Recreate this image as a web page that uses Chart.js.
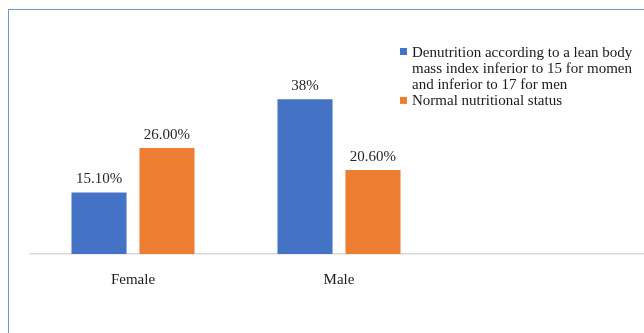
<!DOCTYPE html>
<html>
<head>
<meta charset="utf-8">
<script src="https://cdn.jsdelivr.net/npm/chart.js@4.4.1/dist/chart.umd.min.js"></script>
<style>
  html, body { margin: 0; padding: 0; background: #fff; overflow: hidden; width: 644px; height: 333px; }
  #frame { position: absolute; left: 8px; top: 9px; width: 700px; height: 400px;
           border-left: 1px solid #6f95d6; border-top: 1px solid #6f95d6; }
  #c { position: absolute; left: 0; top: 0; }
</style>
</head>
<body>
<div id="frame"></div>
<canvas id="c" width="648" height="333"></canvas>
<script>
// Categories (third slot left empty, as in the original layout)
const categories = ['Female', 'Male', ''];
const denutrition = [15.1, 38, null];
const normalStatus = [26.0, 20.6, null];
const denutritionLabels = ['15.10%', '38%', ''];
const normalLabels = ['26.00%', '20.60%', ''];
const seriesNames = [
  'Denutrition according to a lean body mass index inferior to 15 for momen and inferior to 17 for men',
  'Normal nutritional status'
];
const legendLines = [
  ['Denutrition according to a lean body', 'mass index inferior to 15 for momen', 'and inferior to 17 for men'],
  ['Normal nutritional status']
];

const FONT = "'Liberation Serif', 'Times New Roman', serif";

// Percent labels written above each bar
const valueLabels = {
  id: 'valueLabels',
  afterDatasetsDraw(chart) {
    const ctx = chart.ctx;
    ctx.save();
    ctx.font = '15px ' + FONT;
    ctx.fillStyle = '#262626';
    ctx.textAlign = 'center';
    ctx.textBaseline = 'alphabetic';
    chart.data.datasets.forEach((ds, i) => {
      const meta = chart.getDatasetMeta(i);
      meta.data.forEach((el, j) => {
        if (ds.data[j] == null) return;
        ctx.fillText(ds.valueText[j], el.x, el.y - 9);
      });
    });
    ctx.restore();
  }
};

// Legend block at the upper right, with wrapped entry text
const sideLegend = {
  id: 'sideLegend',
  afterDraw(chart) {
    const ctx = chart.ctx;
    ctx.save();
    ctx.font = '15px ' + FONT;
    ctx.textBaseline = 'alphabetic';
    ctx.textAlign = 'left';
    let baseline = 56.5;
    const lineH = 16.3;
    chart.data.datasets.forEach((ds, i) => {
      ctx.fillStyle = ds.backgroundColor;
      ctx.fillRect(400, baseline - 8.5, 7, 7);
      ctx.fillStyle = '#1a1a1a';
      legendLines[i].forEach(line => {
        ctx.fillText(line, 412, baseline);
        baseline += lineH;
      });
    });
    ctx.restore();
  }
};

new Chart(document.getElementById('c'), {
  type: 'bar',
  data: {
    labels: categories,
    datasets: [
      { label: seriesNames[0], data: denutrition, valueText: denutritionLabels,
        backgroundColor: '#4472c4', categoryPercentage: 0.66, barPercentage: 0.81 },
      { label: seriesNames[1], data: normalStatus, valueText: normalLabels,
        backgroundColor: '#ed7d31', categoryPercentage: 0.66, barPercentage: 0.81 }
    ]
  },
  options: {
    responsive: false,
    animation: false,
    layout: { padding: { left: 30, right: 0, top: 91, bottom: 0 } },
    plugins: { legend: { display: false }, tooltip: { enabled: false } },
    scales: {
      x: {
        grid: { display: false, drawTicks: false },
        border: { display: true, color: '#d9d9d9', width: 1.5 },
        ticks: { font: { family: FONT, size: 15 }, color: '#1a1a1a', padding: 17 },
        afterFit(scale) { scale.height = 79; }
      },
      y: { display: false, min: 0, max: 40 }
    }
  },
  plugins: [valueLabels, sideLegend]
});
</script>
</body>
</html>
